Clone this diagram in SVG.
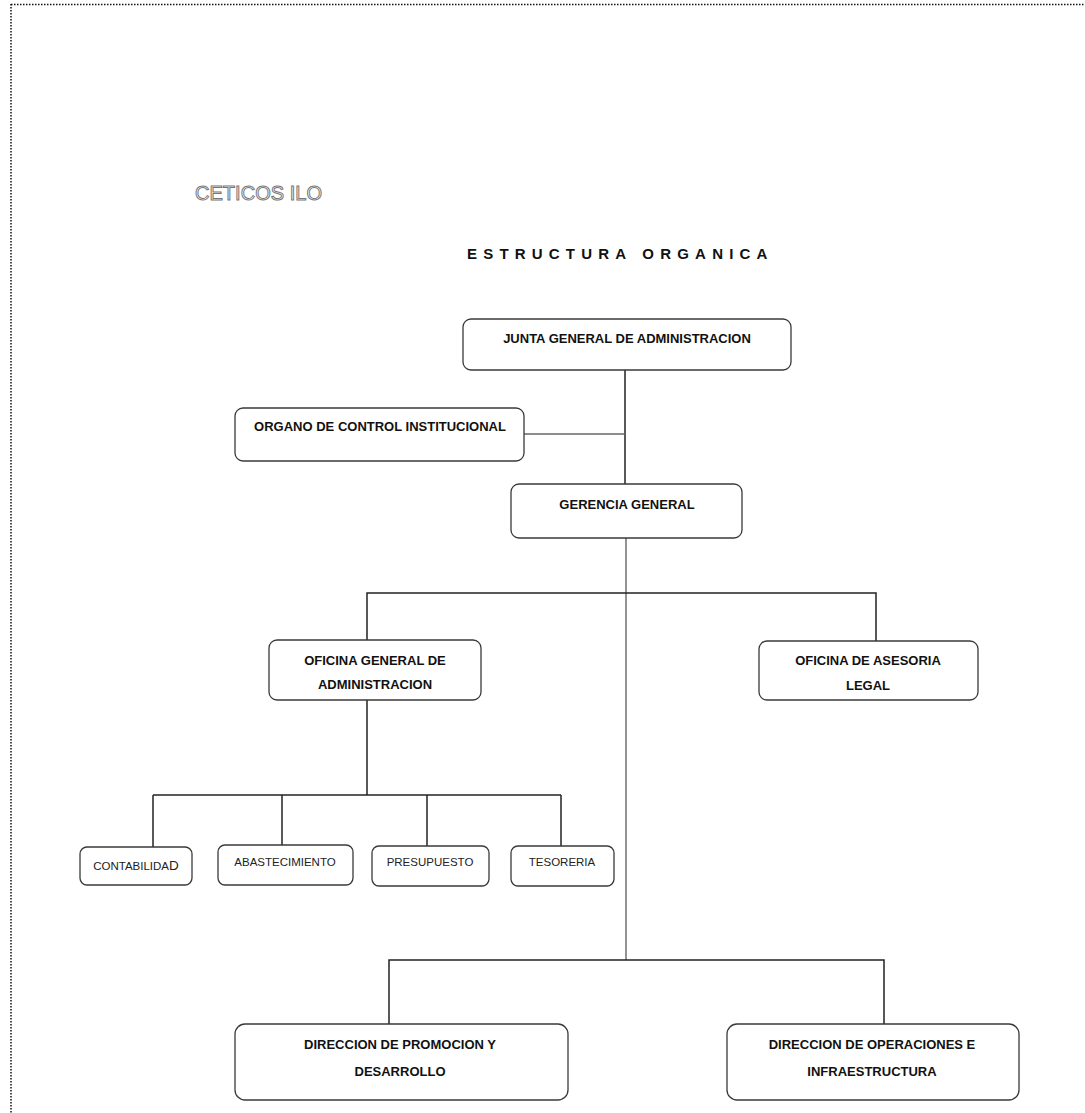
<svg xmlns="http://www.w3.org/2000/svg" width="1085" height="1113" viewBox="0 0 1085 1113">
<style>
.box{fill:#fff;stroke:#3a3a3a;stroke-width:1.3}
.t{font-family:"Liberation Sans",Arial,sans-serif;font-weight:bold;font-size:13px;fill:#111;text-anchor:middle}
.s{font-family:"Liberation Sans",Arial,sans-serif;font-size:11.5px;fill:#222;text-anchor:middle}
.c{fill:none;stroke:#222;stroke-width:1.5}
.cg{fill:none;stroke:#666;stroke-width:1.4}
</style>
<rect width="1085" height="1113" fill="#fff"/>
<g id="border">
<line x1="11" y1="4.5" x2="1085" y2="4.5" stroke="#111" stroke-width="1.5" stroke-dasharray="1.5,1.5"/>
<line x1="11" y1="4" x2="11" y2="1113" stroke="#111" stroke-width="1.5" stroke-dasharray="1.5,1.5"/>
</g>
<text x="195" y="200" font-family="Liberation Sans,Arial,sans-serif" font-size="20" fill="#fff" stroke="#777" stroke-width="1" textLength="127" lengthAdjust="spacingAndGlyphs">CETICOS ILO</text>
<text x="467" y="259" font-family="Liberation Sans,Arial,sans-serif" font-weight="bold" font-size="15" fill="#111" letter-spacing="6.2">ESTRUCTURA<tspan dx="10">ORGANICA</tspan></text>
<g id="connectors">
<line class="c" x1="625" y1="370" x2="625" y2="484" stroke-width="2.6"/>
<line class="cg" x1="524" y1="434" x2="625" y2="434"/>
<line class="cg" x1="626" y1="538" x2="626" y2="960"/>
<polyline class="c" points="367,640 367,593 876,593 876,641"/>
<line class="c" x1="367" y1="700" x2="367" y2="795"/>
<line class="c" x1="153" y1="795" x2="561" y2="795"/>
<line class="c" x1="153" y1="795" x2="153" y2="847"/>
<line class="c" x1="282" y1="795" x2="282" y2="845"/>
<line class="c" x1="427" y1="795" x2="427" y2="846"/>
<line class="c" x1="561" y1="795" x2="561" y2="846"/>
<polyline class="c" points="389,1024 389,960 884,960 884,1024"/>
</g>
<g id="junta"><rect class="box" x="463" y="319" width="328" height="51" rx="8"/><text class="t" x="627" y="343">JUNTA GENERAL DE ADMINISTRACION</text></g>
<g id="organo"><rect class="box" x="235" y="408" width="289" height="53" rx="8"/><text class="t" x="380" y="431">ORGANO DE CONTROL INSTITUCIONAL</text></g>
<g id="gerencia"><rect class="box" x="511" y="484" width="231" height="54" rx="8"/><text class="t" x="627" y="509">GERENCIA GENERAL</text></g>
<g id="oga"><rect class="box" x="269" y="640" width="212" height="60" rx="8"/><text class="t" x="375" y="665">OFICINA GENERAL DE</text><text class="t" x="375" y="689">ADMINISTRACION</text></g>
<g id="asesoria"><rect class="box" x="759" y="641" width="219" height="59" rx="8"/><text class="t" x="868" y="665">OFICINA DE ASESORIA</text><text class="t" x="868" y="690">LEGAL</text></g>
<g id="contabilidad"><rect class="box" x="80" y="847" width="112" height="38" rx="7"/><text class="s" x="136" y="870">CONTABILIDA<tspan font-size="13.5">D</tspan></text></g>
<g id="abastecimiento"><rect class="box" x="218" y="845" width="135" height="40" rx="7"/><text class="s" x="285" y="866">ABASTECIMIENTO</text></g>
<g id="presupuesto"><rect class="box" x="372" y="846" width="117" height="40" rx="7"/><text class="s" x="430" y="866">PRESUPUESTO</text></g>
<g id="tesoreria"><rect class="box" x="511" y="846" width="103" height="40" rx="7"/><text class="s" x="562" y="866">TESORERIA</text></g>
<g id="promocion"><rect class="box" x="235" y="1024" width="333" height="76" rx="10"/><text class="t" x="400" y="1049">DIRECCION DE PROMOCION Y</text><text class="t" x="400" y="1076">DESARROLLO</text></g>
<g id="operaciones"><rect class="box" x="727" y="1024" width="292" height="76" rx="10"/><text class="t" x="872" y="1049">DIRECCION DE OPERACIONES E</text><text class="t" x="872" y="1076">INFRAESTRUCTURA</text></g>
</svg>
